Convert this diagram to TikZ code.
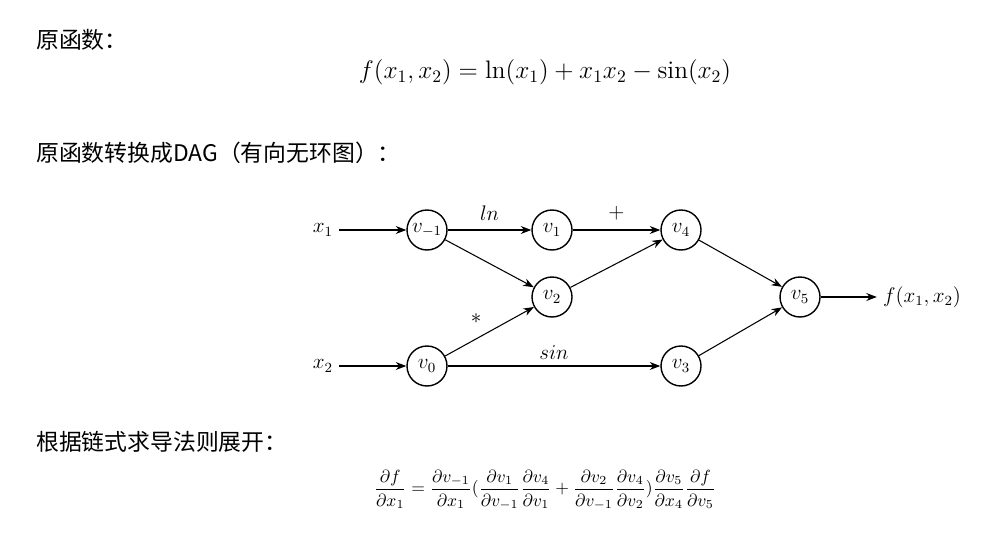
\documentclass[tikz,border=0pt]{standalone}
\usepackage{fontspec}
\usepackage{amsmath}
\newfontfamily\cjk{Noto Sans CJK SC}
\usetikzlibrary{arrows.meta}
\begin{document}
\begin{tikzpicture}[x=0.02cm, y=-0.02cm,
    var/.style={draw, circle, thick, minimum size=0.8cm, inner sep=0pt, font=\large},
    edge/.style={-{Stealth[length=6pt]}, semithick},
    heading/.style={anchor=west, font=\cjk\fontsize{13}{15}\selectfont}]
        \useasboundingbox (0, 0) rectangle (999, 544);

        \node[heading] (T1) at (30, 40) {原函数：};
        \node (F) at (545, 72) {\Large $f(x_1,x_2)=\ln(x_1)+x_1x_2-\sin(x_2)$};
        \node[heading] (T2) at (30, 153) {原函数转换成DAG（有向无环图）：};
        \node[heading] (T3) at (30, 442) {根据链式求导法则展开：};
        \node (D) at (545, 490) {$\dfrac{\partial f}{\partial x_1}=\dfrac{\partial v_{-1}}{\partial x_1}(\dfrac{\partial v_1}{\partial v_{-1}}\dfrac{\partial v_4}{\partial v_1}+\dfrac{\partial v_2}{\partial v_{-1}}\dfrac{\partial v_4}{\partial v_2})\dfrac{\partial v_5}{\partial x_4}\dfrac{\partial f}{\partial v_5}$};

        \node[font=\large] (X1) at (323, 230) {$x_1$};
        \node[font=\large] (X2) at (323, 366) {$x_2$};
        \node[var] (VM) at (427, 230) {$v_{-1}$};
        \node[var] (V0) at (427, 366) {$v_0$};
        \node[var] (V1) at (552, 230) {$v_1$};
        \node[var] (V2) at (552, 297) {$v_2$};
        \node[var] (V4) at (681, 230) {$v_4$};
        \node[var] (V3) at (681, 366) {$v_3$};
        \node[var] (V5) at (800, 297) {$v_5$};
        \node[font=\large] (FX) at (922, 297) {$f(x_1,x_2)$};

        \draw[edge] (X1) -- (VM);
        \draw[edge] (X2) -- (V0);
        \draw[edge] (VM) -- node[above=2pt, font=\large] {$ln$} (V1);
        \draw[edge] (VM) -- (V2);
        \draw[edge] (V0) -- node[above left=1pt, font=\large] {$*$} (V2);
        \draw[edge] (V0) -- node[above, font=\large] {$sin$} (V3);
        \draw[edge] (V1) -- node[above=2pt, font=\large] {$+$} (V4);
        \draw[edge] (V2) -- (V4);
        \draw[edge] (V4) -- (V5);
        \draw[edge] (V3) -- (V5);
        \draw[edge] (V5) -- (FX);
    \end{tikzpicture}
\end{document}
